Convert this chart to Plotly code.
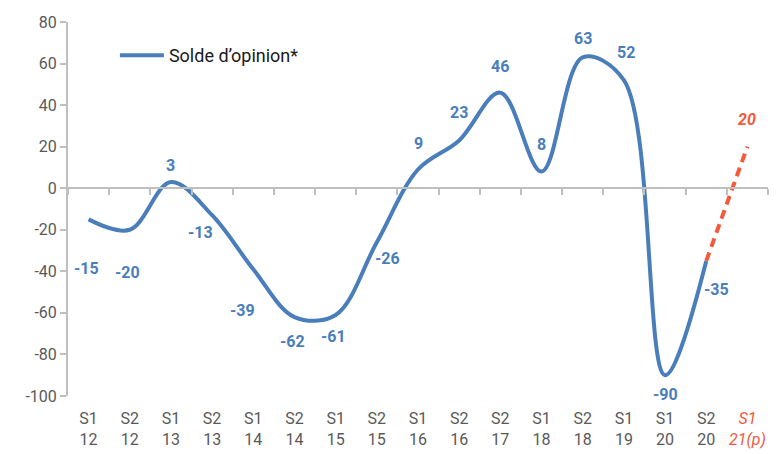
import plotly.graph_objects as go

# semestres (axe des x)
periods = ["S1 12", "S2 12", "S1 13", "S2 13", "S1 14", "S2 14", "S1 15", "S2 15",
           "S1 16", "S2 16", "S2 17", "S1 18", "S2 18", "S1 19", "S1 20", "S2 20", "S1 21(p)"]
# solde d'opinion observé
solde = [-15, -20, 3, -13, -39, -62, -61, -26, 9, 23, 46, 8, 63, 52, -90, -35]
# prévision
prev_periods = ["S2 20", "S1 21(p)"]
prev_values = [-35, 20]
# graduations de l'axe des y
y_ticks = [-100, -80, -60, -40, -20, 0, 20, 40, 60, 80]

BLUE = "#4A7EBB"
RED = "#F15A3B"
GREY = "#595959"
AXIS = "#BFBFBF"

# décalage des étiquettes (px) par rapport au point
label_dx = [-2, -2, 0, -12, -11, -2, -2, 11, 0, 0, 0, 0, 0, 2, 0, 10]
label_dy = [-49, -43, 16, -17, -41, -24, -22, -16, 26, 28, 26, 27, 19, 28, -19, -29]

ticktext = []
for p in periods:
    a, b = p.split(" ")
    if "(p)" in p:
        ticktext.append(f"<span style='color:{RED}'><i>{a}</i></span><br>"
                        f"<span style='color:{RED}'><i>{b}</i></span>")
    else:
        ticktext.append(f"{a}<br>{b}")

fig = go.Figure()
fig.add_trace(go.Scatter(x=periods[:len(solde)], y=solde, mode="lines", name="Solde d’opinion*",
                         line=dict(color=BLUE, width=4, shape="spline", smoothing=1)))
fig.add_trace(go.Scatter(x=prev_periods, y=prev_values, mode="lines", showlegend=False,
                         line=dict(color=RED, width=4, dash="9px,6px")))
# trace invisible pour afficher l'axe des x au niveau de zéro
fig.add_trace(go.Scatter(x=[-0.5, len(periods) - 0.5], y=[0, 0], xaxis="x2", mode="lines",
                         line=dict(color="rgba(0,0,0,0)"), showlegend=False, hoverinfo="skip"))

# étiquettes de valeurs
for i, v in enumerate(solde):
    fig.add_annotation(x=periods[i], y=v, text=str(v), showarrow=False,
                       xshift=label_dx[i], yshift=label_dy[i],
                       font=dict(family="Roboto", size=16, color=BLUE, weight="bold"))
fig.add_annotation(x=prev_periods[-1], y=prev_values[-1], text=f"<i>{prev_values[-1]}</i>",
                   showarrow=False, yshift=27,
                   font=dict(family="Roboto", size=16, color=RED, weight="bold"))

ymin, ymax = y_ticks[0], y_ticks[-1]
# la page ajoute une marge de 8px autour de la figure
fig.update_layout(
    width=773, height=446,
    margin=dict(l=60, r=13, t=14, b=58),
    plot_bgcolor="white", paper_bgcolor="white",
    font=dict(family="Roboto", size=16, color=GREY),
    showlegend=True,
    legend=dict(x=0.067, y=0.96, xanchor="left", yanchor="top", bgcolor="rgba(0,0,0,0)",
                itemwidth=44, font=dict(size=18, color="#1A1A1A")),
    xaxis=dict(type="category", categoryorder="array", categoryarray=periods,
               tickvals=periods, ticktext=ticktext, range=[-0.5, len(periods) - 0.5],
               showline=False, ticks="", showgrid=False, zeroline=False, automargin=False,
               ticklabelstandoff=11, tickfont=dict(size=16, color=GREY)),
    xaxis2=dict(overlaying="x", anchor="free", position=(0 - ymin) / (ymax - ymin),
                range=[-0.5, len(periods) - 0.5], tick0=-0.5, dtick=1,
                showline=True, linecolor=AXIS, linewidth=2, ticks="outside",
                ticklen=6, tickcolor=AXIS, tickwidth=1.5, showticklabels=False,
                showgrid=False, zeroline=False, automargin=False),
    yaxis=dict(range=[ymin, ymax], tickvals=y_ticks, ticktext=[str(t) for t in y_ticks],
               showline=True, linecolor=AXIS, linewidth=2, automargin=False,
               ticks="outside", ticklen=6, tickcolor=AXIS, tickwidth=1.5,
               showgrid=False, zeroline=False, tickfont=dict(size=16, color=GREY)),
)

fig.write_html("out.html")
